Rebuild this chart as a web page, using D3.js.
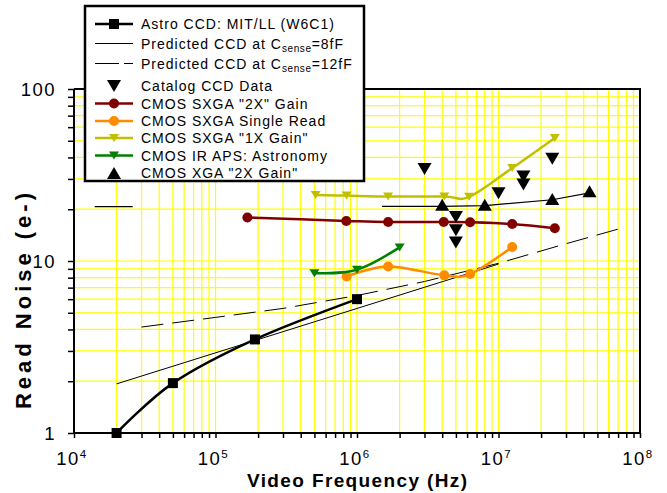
<!DOCTYPE html>
<html>
<head>
<meta charset="utf-8">
<script src="https://cdn.jsdelivr.net/npm/d3@7"></script>
<style>
  body { margin: 0; background: #fff; }
  svg { display: block; font-family: "Liberation Sans", Arial, sans-serif; }
</style>
</head>
<body>
<svg id="chart" width="667" height="493"></svg>
<script>
// values: [frequency Hz, read noise e-]
var astroCCD = [[2e4, 1.0], [5e4, 1.95], [1.9e5, 3.5], [1e6, 6.0]];
var pred8fF = [[2e4, 1.93], [1e7, 9.6]];
var pred12fF = [[3e4, 4.13], [1e5, 4.7], [3e5, 5.3], [1e6, 6.3], [3e6, 7.6], [1e7, 9.7], [3e7, 12.6], [8e7, 15.8]];
var catalogCCD = [[3e6, 34.3], [5e6, 18.0], [5e6, 15.1], [5e6, 12.8], [1e7, 24.8], [1.5e7, 31.0], [1.5e7, 27.8], [2.4e7, 39.3]];
var sxga2x = [[1.68e5, 17.9], [8.4e5, 17.1], [1.66e6, 16.85], [4.1e6, 16.85], [6.3e6, 16.8], [1.25e7, 16.4], [2.5e7, 15.5]];
var sxgaSingle = [[8.45e5, 8.13], [1.66e6, 9.3], [4.14e6, 8.25], [6.3e6, 8.4], [1.25e7, 12.06]];
var sxga1x = [[5.1e5, 24.2], [8.45e5, 24.0], [1.66e6, 23.7], [4.14e6, 23.7], [6.2e6, 23.6], [1.25e7, 34.7], [2.5e7, 51.9]];
var irAPS = [[5e5, 8.5], [1e6, 8.9], [2e6, 12.0]];
var xga2x = [[4e6, 21.2], [8e6, 21.2], [2.4e7, 22.9], [4.4e7, 25.4]];
var xgaLine = [[1.5e6, 20.8], [4e6, 20.8], [8e6, 21.0], [2.4e7, 22.7], [4.4e7, 24.9]];
var shortLine = [[1.4e4, 20.7], [2.6e4, 20.7]];

var xDecades = [4, 5, 6, 7, 8];
var yTicks = [1, 10, 100];

var legendNames = [
    "Astro CCD: MIT/LL (W6C1)",
    "Predicted CCD at C|sense|=8fF",
    "Predicted CCD at C|sense|=12fF",
    "Catalog CCD Data",
    "CMOS SXGA \"2X\" Gain",
    "CMOS SXGA Single Read",
    "CMOS SXGA \"1X Gain\"",
    "CMOS IR APS: Astronomy",
    "CMOS XGA \"2X Gain\""
];

var svg = d3.select("#chart");
var pLeft = 74, pRight = 640, pTop = 89, pBottom = 433;

var x = d3.scaleLog().domain([1e4, 1e8]).range([pLeft, pRight]);
var y = d3.scaleLog().domain([1, 100]).range([pBottom, pTop]);

// grid at every major and minor value
var xGrid = x.ticks(), yGrid = y.ticks();
var grid = svg.append("g").attr("stroke", "#ffff00").attr("stroke-width", 1.2);
grid.selectAll("line.gx").data(xGrid).enter().append("line")
    .attr("x1", function(d) { return x(d); }).attr("x2", function(d) { return x(d); })
    .attr("y1", pTop).attr("y2", pBottom);
grid.selectAll("line.gy").data(yGrid).enter().append("line")
    .attr("y1", function(d) { return y(d); }).attr("y2", function(d) { return y(d); })
    .attr("x1", pLeft).attr("x2", pRight);

// frame top / right
svg.append("path")
    .attr("d", "M" + pLeft + "," + pTop + "H" + pRight + "V" + pBottom)
    .attr("fill", "none").attr("stroke", "#000").attr("stroke-width", 2);

// axes
var xAxis = d3.axisBottom(x).tickValues(xGrid).tickSize(5).tickFormat("");
var yAxis = d3.axisLeft(y).tickValues(yGrid).tickSize(6).tickFormat("");
var gx = svg.append("g").attr("transform", "translate(0," + pBottom + ")").call(xAxis);
var gy = svg.append("g").attr("transform", "translate(" + pLeft + ",0)").call(yAxis);
[gx, gy].forEach(function(g) {
    g.select(".domain").attr("stroke", "#000").attr("stroke-width", 2);
    g.selectAll(".tick line").attr("stroke", "#000").attr("stroke-width", 1.5);
});
gx.select(".domain").attr("d", "M" + pLeft + ",0H" + pRight);
gy.select(".domain").attr("d", "M0," + pTop + "V" + pBottom);

// tick labels
var xl = svg.append("g").attr("font-size", 18.5).attr("letter-spacing", 1.5).attr("text-anchor", "middle");
xDecades.forEach(function(p) {
    var t = xl.append("text").attr("x", x(Math.pow(10, p)) - 2).attr("y", 465).attr("fill", "#000");
    t.append("tspan").text("10");
    t.append("tspan").attr("font-size", 11.5).attr("dy", -7).text(p);
});
svg.append("g").selectAll("text").data(yTicks).enter().append("text")
    .attr("x", 56).attr("y", function(d) { return y(d) + 6.5; })
    .attr("text-anchor", "end").attr("font-size", 18.5).attr("letter-spacing", 1.5)
    .text(function(d) { return d; });

// axis titles
svg.append("text")
    .attr("x", 357).attr("y", 487).attr("text-anchor", "middle")
    .attr("font-size", 19).attr("font-weight", "bold")
    .attr("textLength", 220).attr("lengthAdjust", "spacing")
    .text("Video Frequency (Hz)");
svg.append("text")
    .attr("transform", "translate(31,301) rotate(-90)").attr("text-anchor", "middle")
    .attr("font-size", 22).attr("font-weight", "bold")
    .attr("textLength", 216).attr("lengthAdjust", "spacing")
    .text("Read Noise (e-)");

function tri(w, h, up) {
    return up
        ? "M0," + (-h / 2) + "L" + (w / 2) + "," + (h / 2) + "L" + (-w / 2) + "," + (h / 2) + "Z"
        : "M0," + (h / 2) + "L" + (w / 2) + "," + (-h / 2) + "L" + (-w / 2) + "," + (-h / 2) + "Z";
}

var smooth = d3.line().x(function(d) { return x(d[0]); }).y(function(d) { return y(d[1]); })
    .curve(d3.curveCatmullRom.alpha(0));
var straight = d3.line().x(function(d) { return x(d[0]); }).y(function(d) { return y(d[1]); });

var plot = svg.append("g");

function drawLine(data, gen, color, width, dash) {
    plot.append("path").attr("d", gen(data)).attr("fill", "none")
        .attr("stroke", color).attr("stroke-width", width)
        .attr("stroke-dasharray", dash || null);
}
function drawMarkers(data, shape, color) {
    plot.append("g").selectAll("path").data(data).enter().append("path")
        .attr("transform", function(d) { return "translate(" + x(d[0]) + "," + y(d[1]) + ")"; })
        .attr("d", shape).attr("fill", color);
}

var square = "M-5,-5H5V5H-5Z";
var dot = d3.symbol().type(d3.symbolCircle).size(Math.PI * 25)();

drawLine(pred8fF, straight, "#000", 1);
drawLine(pred12fF, straight, "#000", 1, "22,9");
drawLine(xgaLine, straight, "#000", 1.2);
drawLine(shortLine, straight, "#000", 1.2);

drawLine(astroCCD, smooth, "#000", 2.5);
drawMarkers(astroCCD, square, "#000");

drawLine(sxga2x, smooth, "#800000", 2.5);
drawMarkers(sxga2x, dot, "#800000");

drawLine(sxgaSingle, smooth, "#ff8c00", 2.5);
drawMarkers(sxgaSingle, dot, "#ff8c00");

drawLine(sxga1x, smooth, "#c0c000", 2.5);
drawMarkers(sxga1x, tri(10, 8, false), "#c0c000");

drawLine(irAPS, smooth, "#008000", 2.5);
drawMarkers(irAPS, tri(10, 8, false), "#008000");

drawMarkers(catalogCCD, tri(14, 12, false), "#000");
drawMarkers(xga2x, tri(14, 12, true), "#000");

// legend
var leg = svg.append("g");
leg.append("rect").attr("x", 85).attr("y", 6).attr("width", 279).attr("height", 175)
    .attr("fill", "#fff").attr("stroke", "#000").attr("stroke-width", 2.5);

var rowY = [24, 43.5, 63.5, 86, 103.5, 121, 138, 155.5, 173];
var legStyle = [
    {c: "#000", w: 2.5, m: square},
    {c: "#000", w: 1},
    {c: "#000", w: 1, dash: "24,5"},
    {m: tri(14, 12, false), c: "#000"},
    {c: "#800000", w: 2.5, m: dot},
    {c: "#ff8c00", w: 2.5, m: dot},
    {c: "#c0c000", w: 2.5, m: tri(10, 8, false)},
    {c: "#008000", w: 2.5, m: tri(10, 8, false)},
    {m: tri(14, 12, true), c: "#000"}
];
legendNames.forEach(function(name, i) {
    var s = legStyle[i], yy = rowY[i];
    if (s.w) {
        leg.append("line").attr("x1", 95).attr("x2", 133).attr("y1", yy).attr("y2", yy)
            .attr("stroke", s.c).attr("stroke-width", s.w).attr("stroke-dasharray", s.dash || null);
    }
    if (s.m) {
        leg.append("path").attr("transform", "translate(114," + yy + ")").attr("d", s.m).attr("fill", s.c);
    }
    var t = leg.append("text").attr("x", 141).attr("y", yy + 5).attr("font-size", 14)
        .attr("letter-spacing", 1);
    var parts = name.split("|");
    t.append("tspan").text(parts[0]);
    if (parts.length > 1) {
        t.append("tspan").attr("font-size", 10).attr("dy", 3).attr("letter-spacing", 0.6).text(parts[1]);
        t.append("tspan").attr("dy", -3).text(parts[2]);
    }
});
</script>
</body>
</html>
